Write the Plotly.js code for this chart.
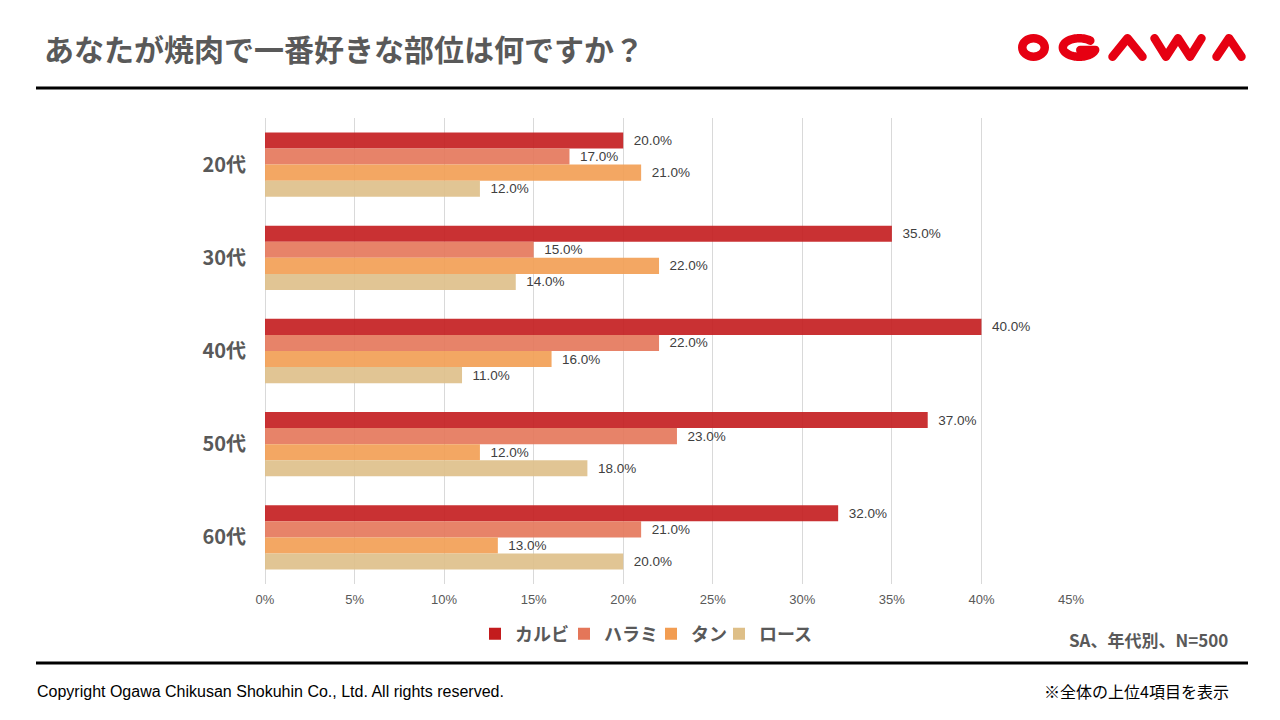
<!DOCTYPE html>
<html>
<head>
<meta charset="utf-8">
<script src="https://cdn.plot.ly/plotly-3.0.1.min.js"></script>
<style>
  html, body { margin: 0; padding: 0; background: #ffffff; }
  #chart { width: 1280px; height: 720px; }
</style>
</head>
<body>
<div id="chart"></div>
<script>
// ---- data ----
const ageGroups = ['20代', '30代', '40代', '50代', '60代'];
const seriesNames = ['カルビ', 'ハラミ', 'タン', 'ロース'];
const kalbi  = [20, 35, 40, 37, 32];
const harami = [17, 15, 22, 23, 21];
const tan    = [21, 22, 16, 12, 13];
const rosu   = [12, 14, 11, 18, 20];
const xTickVals = [0, 5, 10, 15, 20, 25, 30, 35, 40, 45];
const xTickText = ['0%', '5%', '10%', '15%', '20%', '25%', '30%', '35%', '40%', '45%'];
const chartTitle = 'あなたが焼肉で一番好きな部位は何ですか？';
const noteText = 'SA、年代別、N=500';
const footerLeft = 'Copyright Ogawa Chikusan Shokuhin Co., Ltd. All rights reserved.';
const footerRight = '※全体の上位4項目を表示';

// ---- styles ----
const colors = ['rgb(195,27,29)', 'rgb(228,118,89)', 'rgb(242,157,82)', 'rgb(222,191,136)'];
const legendWidths = [44, 42, 23, 54];
const values = [kalbi, harami, tan, rosu];
const JP = '"Noto Sans CJK JP", "Noto Sans", sans-serif';
const LAT = '"Liberation Sans", Arial, sans-serif';

// plot area in pixels
const L = 265, R = 209, T = 118, B = 136;
const W = 1280 - L - R, H = 720 - T - B;
const px = p => (p - L) / W;
const py = p => (T + H - p) / H;

const traces = seriesNames.map((name, i) => ({
  type: 'bar',
  orientation: 'h',
  name: name,
  y: ageGroups,
  x: values[i],
  legendwidth: legendWidths[i],
  marker: { color: colors[i], opacity: 0.9, line: { width: 0 } },
  texttemplate: '\u00a0\u00a0%{x:.1f}%',
  textposition: 'outside',
  cliponaxis: false,
  textfont: { family: LAT, size: 13.5, color: '#404040' },
  hoverinfo: 'skip'
}));

// ---- logo (OGAWA) drawn as thick red strokes ----
const RED = 'rgb(230,0,18)';
const SW = 8.5;
function pathFrom(pts) {
  return pts.map((p, k) => (k ? 'L' : 'M') + px(p[0]).toFixed(5) + ',' + py(p[1]).toFixed(5)).join(' ');
}
const logoShapes = [];
const yTop = 34 + SW / 2, yBot = 61 - SW / 2;
// O
logoShapes.push({ type: 'circle', xref: 'paper', yref: 'paper',
  x0: px(1018 + SW / 2), x1: px(1049 - SW / 2), y0: py(yTop), y1: py(yBot),
  line: { color: RED, width: SW }, fillcolor: 'rgba(0,0,0,0)' });
// G
(function () {
  const cx = 1079.3, cy = (yTop + yBot) / 2, rx = (1100 - 1058.6) / 2 - SW / 2, ry = (yBot - yTop) / 2;
  const pts = [];
  for (let a = -48; a >= -345; a -= 3) {
    const t = a * Math.PI / 180;
    pts.push([cx + rx * Math.cos(t), cy + ry * Math.sin(t)]);
  }
  const last = pts[pts.length - 1];
  pts.push([cx + 1, last[1]]);
  logoShapes.push({ type: 'path', xref: 'paper', yref: 'paper', path: pathFrom(pts),
    line: { color: RED, width: SW }, fillcolor: 'rgba(0,0,0,0)' });
})();
// A
logoShapes.push({ type: 'path', xref: 'paper', yref: 'paper',
  path: pathFrom([[1112.5, yBot], [1127.5, yTop], [1142.5, yBot]]),
  line: { color: RED, width: SW }, fillcolor: 'rgba(0,0,0,0)' });
// W
logoShapes.push({ type: 'path', xref: 'paper', yref: 'paper',
  path: pathFrom([[1154.5, yTop], [1166, yBot], [1178, yTop], [1190, yBot], [1201.5, yTop]]),
  line: { color: RED, width: SW }, fillcolor: 'rgba(0,0,0,0)' });
// A
logoShapes.push({ type: 'path', xref: 'paper', yref: 'paper',
  path: pathFrom([[1216.5, yBot], [1229, yTop], [1241.5, yBot]]),
  line: { color: RED, width: SW }, fillcolor: 'rgba(0,0,0,0)' });

const ruleShapes = [
  { type: 'line', xref: 'paper', yref: 'paper', x0: px(36), x1: px(1248), y0: py(88), y1: py(88),
    line: { color: '#000000', width: 3 } },
  { type: 'line', xref: 'paper', yref: 'paper', x0: px(36), x1: px(1248), y0: py(663), y1: py(663),
    line: { color: '#000000', width: 3 } }
];

const layout = {
  width: 1280, height: 720,
  margin: { l: L, r: R, t: T, b: B, pad: 0 },
  paper_bgcolor: '#ffffff', plot_bgcolor: '#ffffff',
  barmode: 'group', bargap: 0.31, bargroupgap: 0,
  showlegend: true,
  title: {
    text: chartTitle, xref: 'container', yref: 'container',
    x: 44 / 1280, xanchor: 'left', y: 1 - 50 / 720, yanchor: 'middle',
    font: { family: JP, size: 30, color: '#595959', weight: 'bold' }
  },
  xaxis: {
    range: [0, 45], tickvals: xTickVals, ticktext: xTickText,
    showgrid: true, gridcolor: '#D9D9D9', gridwidth: 1,
    zeroline: true, zerolinecolor: '#D9D9D9', zerolinewidth: 1,
    showline: false, ticks: '', ticklabelstandoff: 6,
    tickfont: { family: LAT, size: 13, color: '#595959' },
    fixedrange: true
  },
  yaxis: {
    type: 'category', categoryorder: 'array', categoryarray: ageGroups,
    autorange: 'reversed', showgrid: false, zeroline: false,
    showline: false, ticks: '', ticklabelstandoff: 18,
    tickfont: { family: JP, size: 20, color: '#595959', weight: 'bold' },
    fixedrange: true
  },
  legend: {
    orientation: 'h', xref: 'container', yref: 'container',
    x: 475 / 1280, xanchor: 'left', y: 1 - 634 / 720, yanchor: 'middle',
    font: { family: JP, size: 18, color: '#595959', weight: 'bold' },
    itemwidth: 30, traceorder: 'normal', bgcolor: 'rgba(0,0,0,0)'
  },
  shapes: ruleShapes.concat(logoShapes),
  annotations: [
    { text: noteText, xref: 'paper', yref: 'paper', x: px(1230), y: py(639),
      xanchor: 'right', yanchor: 'middle', showarrow: false,
      font: { family: JP, size: 17, color: '#595959', weight: 'bold' } },
    { text: footerLeft, xref: 'paper', yref: 'paper', x: px(35), y: py(691),
      xanchor: 'left', yanchor: 'middle', showarrow: false,
      font: { family: LAT, size: 16, color: '#000000' } },
    { text: footerRight, xref: 'paper', yref: 'paper', x: px(1231), y: py(691),
      xanchor: 'right', yanchor: 'middle', showarrow: false,
      font: { family: JP, size: 16, color: '#000000' } }
  ]
};

Plotly.newPlot('chart', traces, layout, { displayModeBar: false, staticPlot: true }).then(gd => {
  gd.querySelectorAll('.shapelayer path').forEach(p => {
    const s = p.style.stroke || p.getAttribute('stroke') || '';
    if (s.replace(/\s/g, '').indexOf('rgb(230,0,18)') >= 0) {
      p.style.strokeLinecap = 'round';
      p.style.strokeLinejoin = 'round';
    }
  });
});
</script>
</body>
</html>
